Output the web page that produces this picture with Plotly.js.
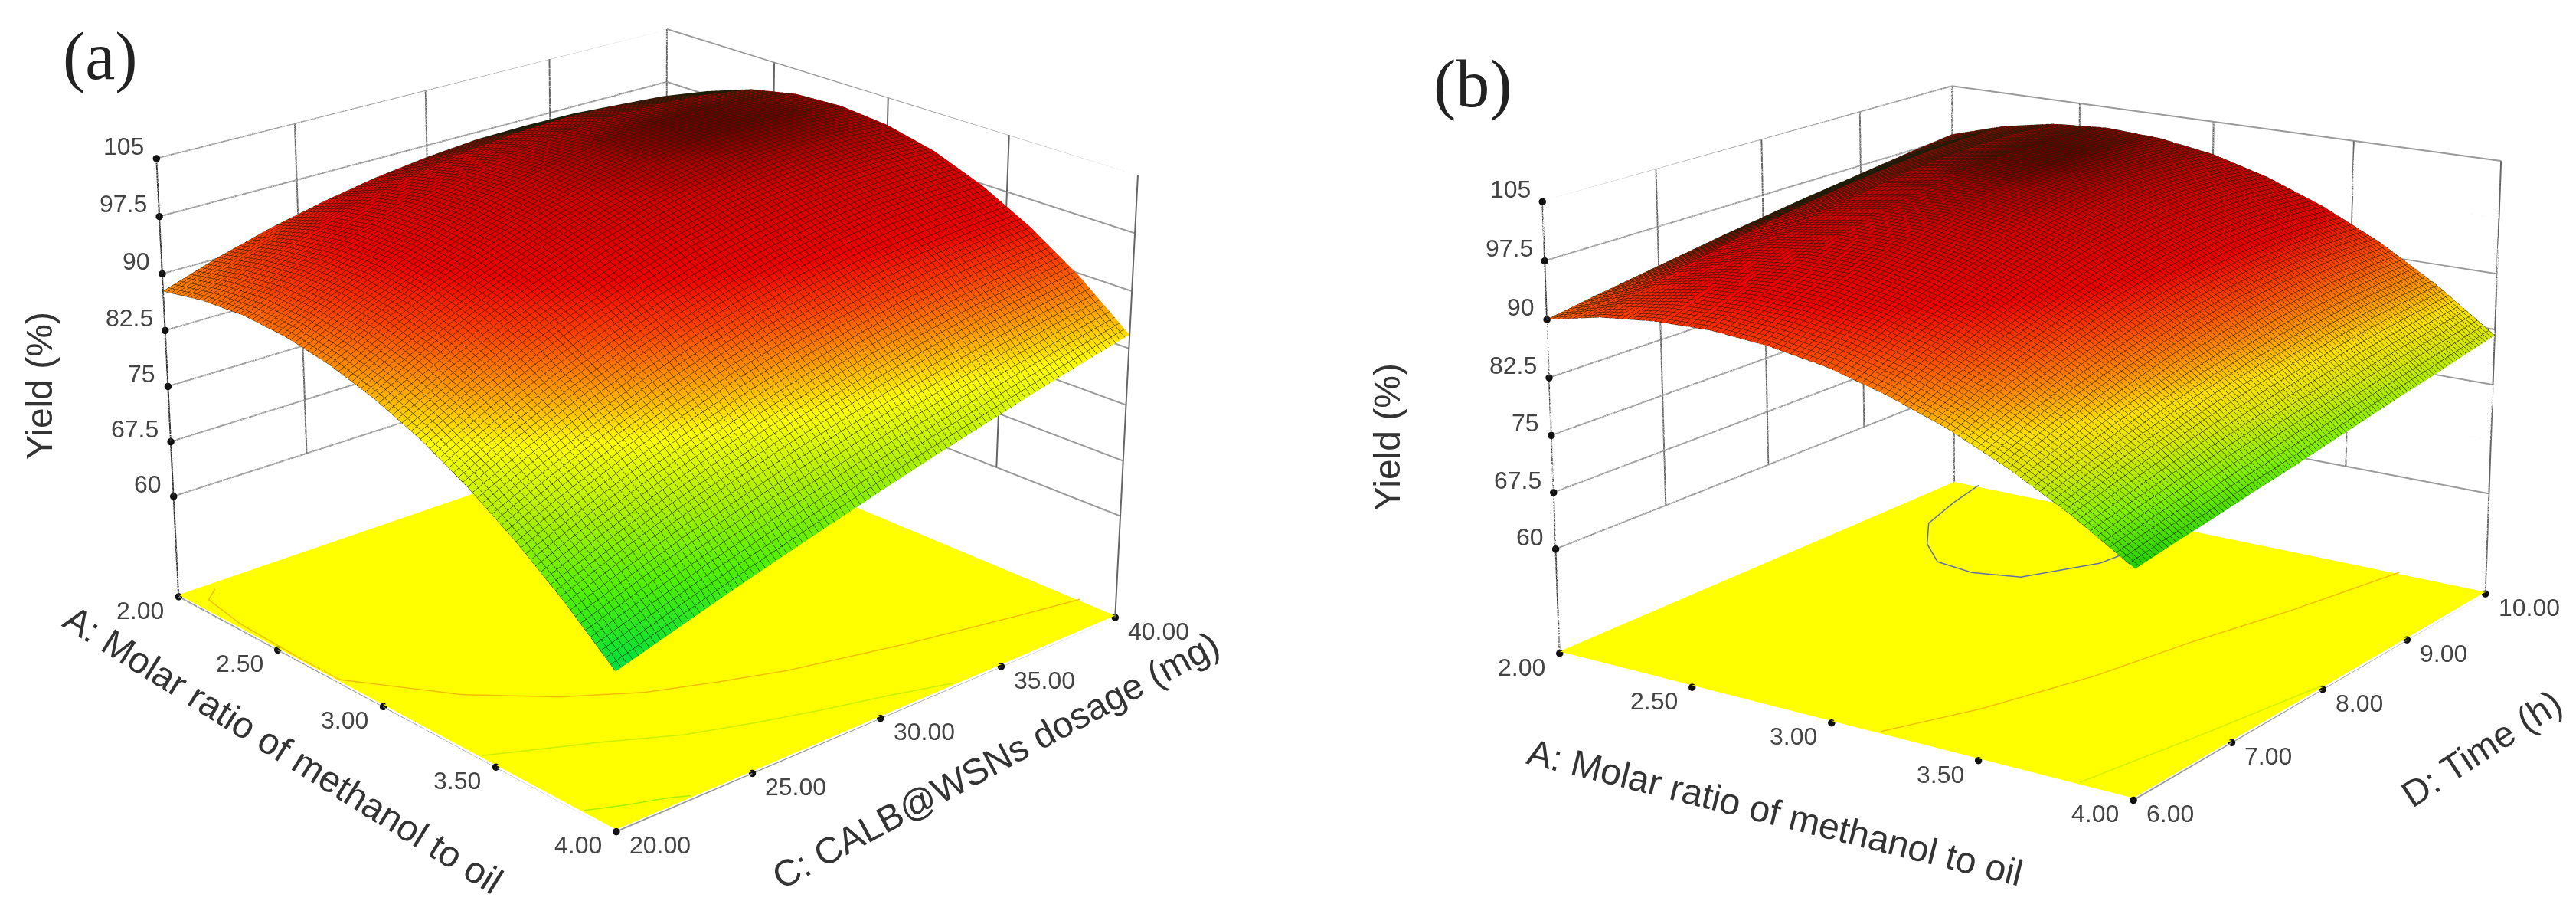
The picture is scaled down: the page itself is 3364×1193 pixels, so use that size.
<!DOCTYPE html>
<html><head><meta charset="utf-8">
<script src="https://cdn.plot.ly/plotly-2.35.2.min.js"></script>
<style>html,body{margin:0;padding:0;background:#fff;width:3364px;height:1193px;overflow:hidden}
#plot{position:absolute;left:0;top:-1507px;width:3364px;height:4037px}</style></head>
<body><div id="plot"></div>
<script>
// Shared z axis
const zFloor = 46, zTop = 105;
const zTicks = [60, 67.5, 75, 82.5, 90, 97.5, 105];
const zTickLabels = ['60','67.5','75','82.5','90','97.5','105'];
// Molar ratio axis (both panels)
const molarTicks = [2, 2.5, 3, 3.5, 4];
const molarLabels = ['2.00','2.50','3.00','3.50','4.00'];
const molarGrid = [2,2.2,2.4,2.6,2.8,3,3.2,3.4,3.6,3.8,4];
// Panel (a)
const dosageTicks = [20,25,30,35,40];
const dosageLabels = ['20.00','25.00','30.00','35.00','40.00'];
const dosageGrid = [20,22,24,26,28,30,32,34,36,38,40];
const yieldA = [
[87.7,90.1,92.1,93.7,95.0,95.9,96.5,96.6,96.5,95.9,95.0],
[88.8,91.6,94.0,96.0,97.6,98.8,99.5,99.8,99.6,99.1,98.1],
[89.2,92.4,95.1,97.4,99.2,100.5,101.4,101.8,101.8,101.3,100.3],
[88.8,92.3,95.2,97.7,99.7,101.2,102.3,102.8,102.9,102.5,101.6],
[87.7,91.3,94.4,97.0,99.2,100.9,102.0,102.7,102.9,102.7,101.9],
[85.9,89.5,92.7,95.4,97.6,99.4,100.7,101.6,101.9,101.9,101.3],
[83.4,86.9,90.0,92.7,95.0,96.9,98.3,99.3,99.9,100.0,99.8],
[80.1,83.5,86.5,89.1,91.4,93.3,94.8,96.0,96.8,97.2,97.3],
[76.1,79.2,82.0,84.5,86.7,88.6,90.2,91.6,92.6,93.4,93.9],
[71.4,74.1,76.6,78.8,80.9,82.8,84.6,86.1,87.5,88.6,89.6],
[66.0,68.1,70.2,72.2,74.1,76.0,77.8,79.5,81.2,82.8,84.3]];
const floorA1m=[2.05,2.1,2.3,2.6,2.8,3.11,3.31,3.45,3.54,3.62,3.73,3.82,3.86];
const floorA1c=[21,20.4,20.1,20,20,22,24,26,28,30,34,38,40];
const floorA2m=[3.44,3.6,3.72,3.8,3.87,3.93,4];
const floorA2c=[20,23,25,27,29,31,33];
const floorA3m=[3.87,3.92,3.97,4];
const floorA3c=[20,21,22.2,22.7];
// Panel (b)
const timeTicks=[6,7,8,9,10];
const timeLabels=['6.00','7.00','8.00','9.00','10.00'];
const timeGrid=[6,6.4,6.8,7.2,7.6,8,8.4,8.8,9.2,9.6,10];
const yieldB = [
[90.0,91.0,91.9,92.8,93.7,94.5,95.3,96.0,96.7,97.4,98.0],
[91.6,93.2,94.7,96.0,97.1,98.0,98.8,99.4,99.9,100.1,100.2],
[92.4,94.6,96.4,98.0,99.4,100.4,101.2,101.7,101.9,101.9,101.6],
[92.6,95.1,97.2,99.1,100.5,101.6,102.4,102.8,102.9,102.7,102.1],
[92.0,94.8,97.1,99.0,100.5,101.7,102.5,102.9,102.9,102.5,101.7],
[90.8,93.6,95.9,97.9,99.4,100.6,101.4,101.8,101.7,101.3,100.5],
[88.8,91.5,93.8,95.7,97.2,98.4,99.1,99.5,99.5,99.2,98.4],
[86.2,88.6,90.7,92.4,93.9,95.0,95.7,96.2,96.3,96.1,95.5],
[82.8,84.8,86.6,88.1,89.4,90.4,91.2,91.7,92.0,92.0,91.8],
[78.8,80.2,81.5,82.7,83.8,84.7,85.4,86.1,86.6,86.9,87.2],
[74.0,74.8,75.5,76.3,77.0,77.8,78.6,79.4,80.1,80.9,81.7]];
const floorB1m=[2.1,2.14,2.2,2.32,2.45,2.6,2.75,2.88,2.93];
const floorB1t=[10,9.6,9.15,8.8,8.55,8.5,8.6,9.1,10];
const floorB2m=[3.17,3.3,3.42,3.5,3.6,3.7];
const floorB2t=[6,6.6,7.4,8.2,9,10];
const floorB3m=[3.83,3.92,4];
const floorB3t=[6,7,8];

const scaleA=[[0,'#00e040'],[.16,'#50f000'],[.32,'#b0f000'],[.46,'#ffff00'],[.57,'#ff9c00'],[.68,'#ff4000'],[.78,'#f00000'],[.92,'#d00000'],[.97,'#a80000'],[1,'#680000']];
const scaleB=[[0,'#20d000'],[.138,'#80f000'],[.276,'#d8e800'],[.379,'#ffe000'],[.483,'#ff9000'],[.586,'#ff5000'],[.724,'#f00000'],[.897,'#d00000'],[.966,'#a80000'],[1,'#680000']];
const flat={ambient:1,diffuse:0,specular:0,roughness:1,fresnel:0};
const W=3364,H=4037,T=1507;
const px=x=>x/W, py=y=>1-(y+T)/H;

function walls(xT,yT,scene){
  const x0=xT[0],x1=xT[xT.length-1],y0=yT[0],y1=yT[yT.length-1];
  const hx=[],hy=[],hz=[],vx=[],vy=[],vz=[];
  const h=(a,b,c,d,e,f)=>{hx.push(a,d,null);hy.push(b,e,null);hz.push(c,f,null)};
  // verticals run through every z tick
  const v=(a,b,zs)=>{zs.forEach(z=>{vx.push(a);vy.push(b);vz.push(z)});vx.push(null);vy.push(null);vz.push(null)};
  zTicks.forEach(z=>{h(x0,y0,z,x0,y1,z);h(x0,y1,z,x1,y1,z)});
  yT.slice(1,-1).forEach(y=>v(x0,y,zTicks));
  xT.slice(1,-1).forEach(x=>v(x,y1,zTicks));
  v(x0,y1,[zFloor,...zTicks]); v(x1,y1,[zFloor,...zTicks]);
  h(x0,y0,zFloor,x0,y1,zFloor);h(x0,y1,zFloor,x1,y1,zFloor);
  h(x1,y0,zFloor,x1,y1,zFloor);h(x0,y0,zFloor,x1,y0,zFloor);
  const base={type:'scatter3d',mode:'lines',scene,hoverinfo:'skip',showlegend:false,connectgaps:false};
  const grid={...base,x:hx,y:hy,z:hz,line:{color:'#9a9a9a',width:4}};
  const verts={...base,x:vx,y:vy,z:vz,line:{color:'#666',width:4}};
  const axisZ=[zFloor,...zTicks];
  const axis={...base,x:axisZ.map(()=>x0),y:axisZ.map(()=>y0),z:axisZ,line:{color:'#333',width:4}};
  const dots={type:'scatter3d',mode:'markers',scene,hoverinfo:'skip',showlegend:false,marker:{color:'#111',size:5.5,line:{width:0}},
    x:[...zTicks.map(()=>x0),...xT.map(v=>v),...yT.map(()=>x1)],
    y:[...zTicks.map(()=>y0),...xT.map(()=>y0),...yT.map(v=>v)],
    z:[...zTicks,...xT.map(()=>zFloor),...yT.map(()=>zFloor)]};
  return [grid,verts,axis,dots];
}
function floorLine(xs,ys,color,scene){
  return {type:'scatter3d',mode:'lines',x:xs,y:ys,z:xs.map(()=>zFloor+.5),scene,hoverinfo:'skip',showlegend:false,line:{color,width:3}};
}
function floorMesh(xT,yT,scene){
  const a=xT[0],b=xT[xT.length-1],c=yT[0],d=yT[yT.length-1];
  const fz=zFloor+.25;
  return {type:'mesh3d',x:[a,b,b,a],y:[c,c,d,d],z:[fz,fz,fz,fz],i:[0,0],j:[1,2],k:[2,3],scene,hoverinfo:'skip',
    color:'#ffff00',flatshading:true,lighting:flat,showscale:false};
}
function surf(xG,yG,zz,scale,cmin,cmax,sx,sy,scene){
  const z=yG.map((_,j)=>xG.map((_,i)=>zz[i][j]));
  return {type:'surface',x:xG,y:yG,z,scene,showscale:false,hoverinfo:'skip',cmin,cmax,colorscale:scale,lighting:flat,
    contours:{x:{show:true,start:xG[0],end:xG[xG.length-1],size:sx,color:'#1c1c08',width:2,highlight:false},
              y:{show:true,start:yG[0],end:yG[yG.length-1],size:sy,color:'#1c1c08',width:2,highlight:false},
              z:{highlight:false}}};
}
const tickFont={family:'Liberation Sans, Arial, sans-serif',size:32,color:'#444'};
function tickAnn(xT,xL,yT,yL){
  const x0=xT[0],x1=xT[xT.length-1],y0=yT[0];
  const an=[];
  zTicks.forEach((z,i)=>an.push({x:x0,y:y0,z,text:zTickLabels[i],showarrow:false,xanchor:'right',yanchor:'middle',xshift:-14,yshift:16,font:tickFont}));
  xT.forEach((x,i)=>an.push({x,y:y0,z:zFloor,text:xL[i],showarrow:false,xanchor:'right',yanchor:'middle',xshift:-17,yshift:-18,font:tickFont}));
  yT.forEach((y,i)=>an.push({x:x1,y,z:zFloor,text:yL[i],showarrow:false,xanchor:'left',yanchor:'middle',xshift:15,yshift:-18,font:tickFont}));
  return an;
}
const ax={visible:false,showspikes:false,showbackground:false,showgrid:false,zeroline:false};
const data=[
  floorMesh(molarTicks,dosageTicks,'scene'),
  floorLine(floorA1m,floorA1c,'#f0c000','scene'),
  floorLine(floorA2m,floorA2c,'#c8f000','scene'),
  floorLine(floorA3m,floorA3c,'#a8f000','scene'),
  ...walls(molarTicks,dosageTicks,'scene'),
  surf(molarGrid,dosageGrid,yieldA,scaleA,66,103,.02,.2,'scene'),
  floorMesh(molarTicks,timeTicks,'scene2'),
  floorLine(floorB1m,floorB1t,'#6070a8','scene2'),
  floorLine(floorB2m,floorB2t,'#f0c000','scene2'),
  floorLine(floorB3m,floorB3t,'#d0f000','scene2'),
  ...walls(molarTicks,timeTicks,'scene2'),
  surf(molarGrid,timeGrid,yieldB,scaleB,74,103,.02,.04,'scene2')
];
const titleFont={family:'Liberation Sans, Arial, sans-serif',size:48,color:'#333'};
const note=(x,y,text,angle,font)=>({xref:'paper',yref:'paper',x:px(x),y:py(y),text,textangle:angle,showarrow:false,xanchor:'center',yanchor:'middle',font});
const panelFont={family:'Liberation Serif, Times New Roman, serif',size:88,color:'#222'};
const layout={
  width:W,height:H,margin:{l:0,r:0,t:0,b:0,pad:0},paper_bgcolor:'#fff',showlegend:false,
  scene:{domain:{x:[0,.5],y:[0,1]},aspectmode:'manual',aspectratio:{x:1,y:1,z:.698},
    camera:{eye:{x:3.796,y:-3.418,z:2.035},center:{x:0,y:0,z:0},up:{x:0,y:0,z:1},projection:{type:'perspective'}},
    xaxis:{...ax,range:[2,4]},yaxis:{...ax,range:[20,40]},zaxis:{...ax,range:[zFloor,zTop]},
    annotations:tickAnn(molarTicks,molarLabels,dosageTicks,dosageLabels)},
  scene2:{domain:{x:[.5786,1],y:[0,.9911]},aspectmode:'manual',aspectratio:{x:1,y:1,z:.679},
    camera:{eye:{x:2.944,y:-4.332,z:1.532},center:{x:0,y:0,z:0},up:{x:0,y:0,z:1},projection:{type:'perspective'}},
    xaxis:{...ax,range:[2,4]},yaxis:{...ax,range:[6,10]},zaxis:{...ax,range:[zFloor,zTop]},
    annotations:tickAnn(molarTicks,molarLabels,timeTicks,timeLabels)},
  annotations:[
    note(131,74,'(a)',0,panelFont),
    note(1923,109,'(b)',0,panelFont),
    note(51,504,'Yield (%)',-90,titleFont),
    note(1811,571,'Yield (%)',-90,titleFont),
    note(370,978,'A: Molar ratio of methanol to oil',32,titleFont),
    note(1300,992,'C: CALB@WSNs dosage (mg)',-28.3,titleFont),
    note(2318,1060,'A: Molar ratio of methanol to oil',14,titleFont),
    note(3240,977,'D: Time (h)',-33,titleFont)
  ]
};
Plotly.newPlot('plot',data,layout,{displayModeBar:false});
</script></body></html>
